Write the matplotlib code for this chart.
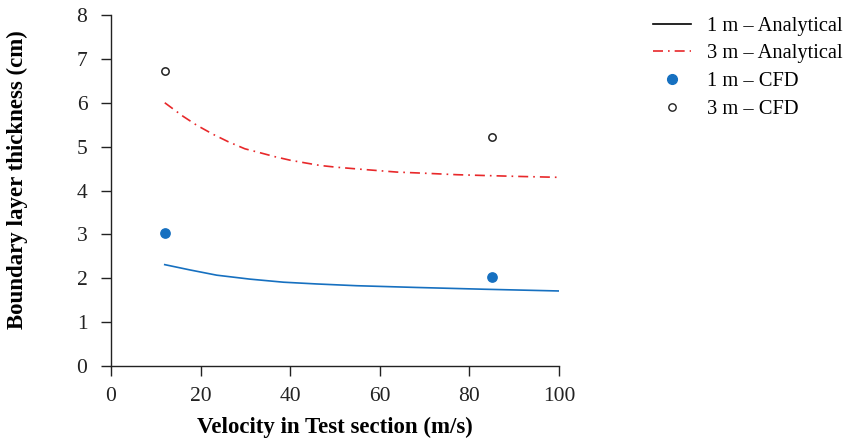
import matplotlib
matplotlib.use("Agg")
import matplotlib.pyplot as plt
from matplotlib.lines import Line2D

# Analytical curves
vel_1m_analytical = [12, 17.6, 23.6, 31.0, 38.5, 45.9, 54.8, 68.2, 83.1, 100]
bl_1m_analytical = [2.31, 2.19, 2.07, 1.98, 1.91, 1.87, 1.83, 1.79, 1.75, 1.71]

vel_3m_analytical = [12, 16.1, 19.1, 22.8, 26.2, 29.9, 33.3, 36.6, 40.0, 43.3,
                     46.7, 50.4, 56.3, 63.8, 70.8, 77.2, 83.9, 91.3, 100]
bl_3m_analytical = [6.00, 5.69, 5.49, 5.28, 5.11, 4.95, 4.86, 4.77, 4.69, 4.63,
                    4.57, 4.53, 4.48, 4.42, 4.39, 4.36, 4.34, 4.32, 4.30]

# CFD points
vel_cfd = [12, 85]
bl_1m_cfd = [3.03, 2.03]
bl_3m_cfd = [6.73, 5.23]

xticks = [0, 20, 40, 60, 80, 100]
yticks = [0, 1, 2, 3, 4, 5, 6, 7, 8]

plt.rcParams['font.family'] = ['Liberation Serif', 'DejaVu Serif']

fig = plt.figure(figsize=(8.43, 4.41), dpi=100)
ax = fig.add_axes([111/843, 75/441, 448/843, 351/441])

blue = '#1670c0'
red = '#e8282a'
dashdot = (0, (6, 3, 1, 3))

ax.plot(vel_1m_analytical, bl_1m_analytical, color=blue, lw=1.2)
ax.plot(vel_3m_analytical, bl_3m_analytical, color=red, lw=1.2, linestyle=dashdot)
ax.scatter(vel_cfd, bl_1m_cfd, s=45, color=blue, zorder=3)
ax.scatter(vel_cfd, bl_3m_cfd, s=28, facecolor='white', edgecolor='#222222', linewidth=1.1, zorder=3)

ax.set_xlim(0, 100)
ax.set_ylim(0, 8)
ax.set_xticks(xticks)
ax.set_yticks(yticks)
ax.tick_params(direction='out', length=7, width=1, labelsize=15.5, colors='#222222')
ax.tick_params(axis='x', pad=8)
ax.tick_params(axis='y', pad=10)
for s in ['top', 'right']:
    ax.spines[s].set_visible(False)
for s in ['left', 'bottom']:
    ax.spines[s].set_linewidth(1)
    ax.spines[s].set_color('#222222')

ax.set_xlabel('Velocity in Test section (m/s)', fontsize=16.5, fontweight='bold', labelpad=8)
ax.set_ylabel('Boundary layer thickness (cm)', fontsize=16.5, fontweight='bold')
ax.yaxis.set_label_coords(-0.185, 0.53)

handles = [
    Line2D([], [], color='black', lw=1.2),
    Line2D([], [], color=red, lw=1.2, linestyle=dashdot),
    Line2D([], [], color=blue, marker='o', linestyle='none', markersize=7),
    Line2D([], [], color='#222222', marker='o', markerfacecolor='white', linestyle='none', markersize=5.3),
]
labels = ['1 m \u2013 Analytical', '3 m \u2013 Analytical', '1 m \u2013 CFD', '3 m \u2013 CFD']
fig.legend(handles, labels, loc='upper left', bbox_to_anchor=(634/843, 1 + 2/441),
           frameon=False, fontsize=14.8, handlelength=1.85, labelspacing=0.4, handletextpad=0.8)

fig.savefig('out.png', dpi=100)
